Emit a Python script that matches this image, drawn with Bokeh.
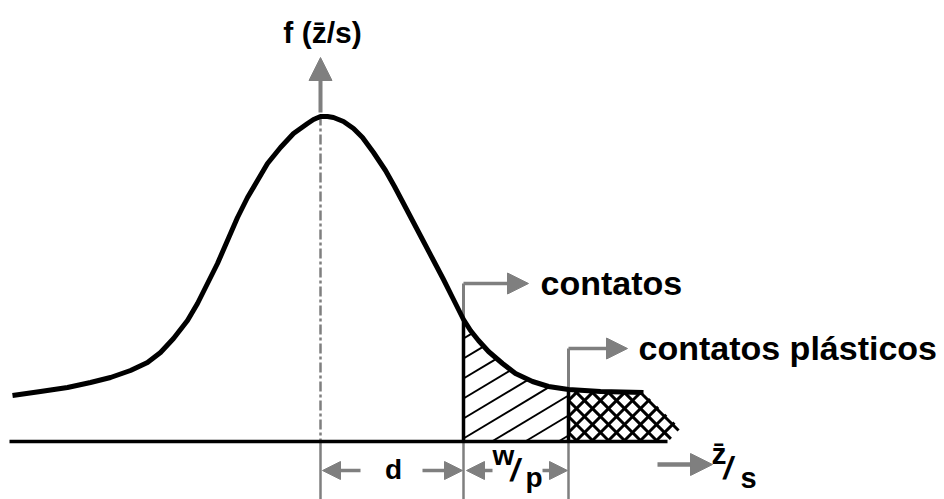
import numpy as np
from bokeh.plotting import figure
from bokeh.models import Range1d, Arrow, NormalHead
from bokeh.core.properties import value
from bokeh.embed import file_html
from bokeh.resources import INLINE

# Distribution curve f(z/s), in the drawing's own frame (y grows downward)
curve_x = [12, 40, 67, 90, 110, 130, 147, 160, 173, 187, 197, 207, 217, 227, 237,
           247, 257, 267, 280, 293, 307, 313, 320, 327, 333, 343, 353, 362, 373, 385,
           394, 403, 413, 423, 433, 443, 452, 463, 470, 478, 488, 502, 515, 532, 548,
           568, 600, 643]
curve_y = [395, 391, 387, 382, 377, 370, 362, 352, 338, 320, 303, 283, 263, 240, 217,
           197, 180, 163, 147, 133, 123, 119, 116, 116, 117, 121, 128, 137, 152, 170,
           186, 203, 222, 241, 260, 279, 297, 319, 330, 340, 351, 363, 373, 381, 386,
           389, 391, 392]

# Key abscissae: mean, contact threshold (d), plastic threshold (d + w/p)
mean_x = 320
contact_x = 463
plastic_x = 568
base_y = 441

# Labels
axis_label = "f (z\u0304/s)"
contacts_label = "contatos"
plastic_label = "contatos plásticos"
d_label = "d"
w_label, p_label = "w", "p"
z_label, s_label = "z\u0304", "s"
slash = "/"

GRAY = "#7f7f7f"
FONT = value("Liberation Sans")

p = figure(width=944, height=499, output_backend="svg", toolbar_location=None,
           x_axis_location=None, y_axis_location=None, min_border=0,
           x_range=Range1d(0, 944), y_range=Range1d(499, 0),
           background_fill_color="white", border_fill_color="white")
p.grid.visible = False
p.outline_line_color = None

cx = np.array(curve_x, dtype=float)
cy = np.array(curve_y, dtype=float)


def hatch_lines(x_lo, x_hi, top_x, top_y, bot_x, bot_y, slope, step, phase):
    """Segments of a family of parallel lines clipped to the band between two boundaries."""
    xs = np.linspace(x_lo, x_hi, 3000)
    top = np.interp(xs, top_x, top_y)
    bot = np.interp(xs, bot_x, bot_y)
    lo = (top + slope * (xs - x_lo)).min()
    hi = (bot + slope * (xs - x_lo)).max()
    k0 = np.floor((lo - phase) / step)
    out = ([], [], [], [])
    c = phase + k0 * step
    while c <= hi + step:
        ly = c - slope * (xs - x_lo)
        m = np.where((ly >= top) & (ly <= bot))[0]
        if len(m) > 1:
            a, b = m[0], m[-1]
            out[0].append(xs[a]); out[1].append(ly[a])
            out[2].append(xs[b]); out[3].append(ly[b])
        c += step
    return out


# Contact band: single diagonal hatch between the curve and the baseline
sel = (cx >= contact_x) & (cx <= plastic_x)
h1 = hatch_lines(contact_x, plastic_x, cx[sel], cy[sel],
                 [contact_x, plastic_x], [base_y, base_y], 0.6, 20, 338)
p.segment(h1[0], h1[1], h1[2], h1[3], line_color="black", line_width=2)

# Plastic band: cross hatch with a ragged right edge
sel2 = cx >= plastic_x
tip_x, tip_y = 680, 428
top2_x = list(cx[sel2]) + [tip_x]
top2_y = list(cy[sel2]) + [tip_y]
bot2_x = [plastic_x, 668, tip_x]
bot2_y = [base_y, base_y, tip_y]
for slope in (1.0, -1.0):
    h2 = hatch_lines(plastic_x, tip_x, top2_x, top2_y, bot2_x, bot2_y, slope, 16, 400)
    p.segment(h2[0], h2[1], h2[2], h2[3], line_color="black", line_width=3)

# Mean line (dash-dot) and dimension guides
p.line([mean_x, mean_x], [115, base_y], line_color=GRAY, line_width=2.5,
       line_dash="10 3 3 3")
for gx in (mean_x, contact_x, plastic_x):
    p.line([gx, gx], [base_y, 499], line_color=GRAY, line_width=2.5)

# Threshold flags
p.line([contact_x, contact_x], [float(np.interp(contact_x, cx, cy)), 283],
       line_color=GRAY, line_width=3)
p.line([plastic_x, plastic_x], [float(np.interp(plastic_x, cx, cy)), 348],
       line_color=GRAY, line_width=3)

# Black band boundaries and baseline
p.line([contact_x, contact_x], [float(np.interp(contact_x, cx, cy)), base_y],
       line_color="black", line_width=3.5)
p.line([plastic_x, plastic_x], [float(np.interp(plastic_x, cx, cy)), base_y],
       line_color="black", line_width=3.5)
p.line([9, 667], [base_y, base_y], line_color="black", line_width=3.5)

# The distribution curve
p.line(curve_x, curve_y, line_color="black", line_width=5, line_join="round")


def arrow(x0, y0, x1, y1, size, width=4):
    p.add_layout(Arrow(end=NormalHead(size=size, fill_color=GRAY, line_color=GRAY),
                       x_start=x0, y_start=y0, x_end=x1, y_end=y1,
                       line_color=GRAY, line_width=width))


arrow(mean_x, 112, mean_x, 57, 23)                 # f axis
arrow(contact_x, 283, 528, 283, 21, 3.5)           # contatos flag
arrow(plastic_x, 348, 627, 348, 21, 3.5)           # contatos plásticos flag
arrow(657, 464, 712, 464, 22, 4.5)                 # z/s axis
arrow(360, 470, mean_x + 2, 470, 18, 3.5)          # d, left
arrow(422, 470, contact_x - 1, 470, 18, 3.5)       # d, right
arrow(492, 470, contact_x + 3, 470, 18, 3.5)       # w/p, left
arrow(542, 470, plastic_x - 1, 470, 18, 3.5)       # w/p, right

# SVG text sits a little low with an alphabetic baseline; lift it to match
LIFT = 9


def label(x, y, txt, size, align="left", style="bold"):
    p.text(x=[x], y=[y - LIFT], text=[txt], text_font=FONT, text_font_style=style,
           text_font_size=size, text_color="black", text_align=align,
           text_baseline="alphabetic")


label(322, 41, axis_label, "30px", "center")
label(540, 291, contacts_label, "34px")
label(638, 356, plastic_label, "34px")
label(393, 478, d_label, "28px", "center")
label(492, 464, w_label, "28px")
label(510, 478, slash, "32px", style="bold italic")
label(525, 486, p_label, "28px")
label(711, 462, z_label, "30px")
label(723, 476, slash, "32px", style="bold italic")
label(740, 486, s_label, "29px")

open("out.html", "w").write(file_html(p, INLINE))
